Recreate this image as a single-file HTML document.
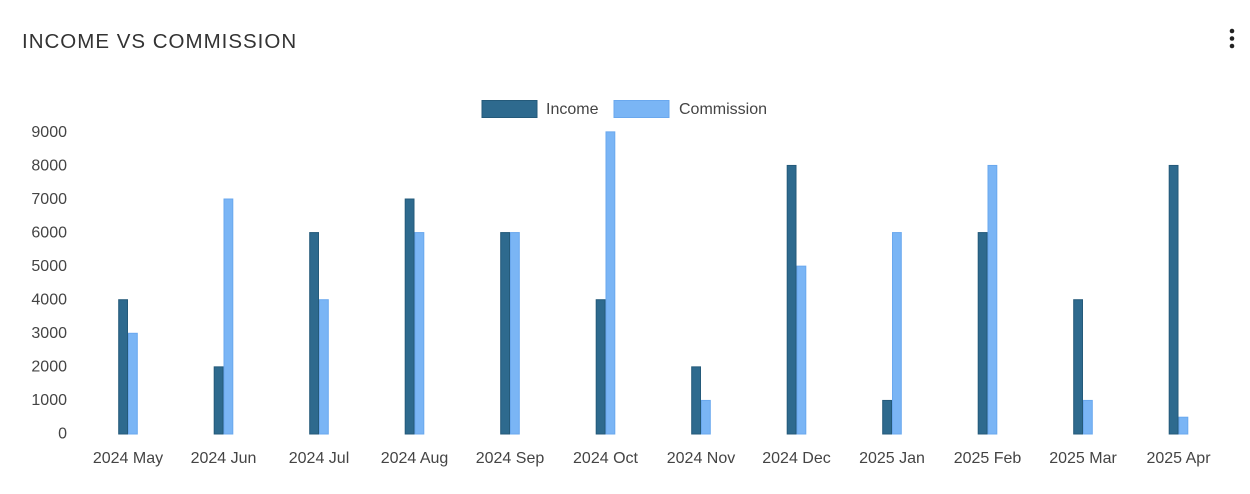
<!DOCTYPE html>
<html><head><meta charset="utf-8"><style>
html,body{margin:0;padding:0;background:#fff;width:1250px;height:494px;overflow:hidden;}
svg text{font-family:"Liberation Sans",sans-serif;}
</style></head><body>
<svg width="1250" height="494" viewBox="0 0 1250 494" xmlns="http://www.w3.org/2000/svg">
<text x="22" y="48" font-size="20.5" fill="#333" letter-spacing="1">INCOME VS COMMISSION</text>
<circle cx="1232" cy="31" r="2.3" fill="#222"/><circle cx="1232" cy="38.5" r="2.3" fill="#222"/><circle cx="1232" cy="46" r="2.3" fill="#222"/>
<rect x="482" y="100.5" width="55" height="17" fill="#2e6a8e" stroke="#245a7a"/>
<text x="546" y="114" font-size="16" fill="#444">Income</text>
<rect x="614" y="100.5" width="55" height="17" fill="#7ab5f5" stroke="#6aa8ee"/>
<text x="679" y="114" font-size="16" fill="#444">Commission</text>
<g font-size="16" fill="#444" text-anchor="end">
<text x="67" y="137">9000</text><text x="67" y="170.5">8000</text><text x="67" y="204">7000</text>
<text x="67" y="237.5">6000</text><text x="67" y="271">5000</text><text x="67" y="304.5">4000</text>
<text x="67" y="338">3000</text><text x="67" y="371.5">2000</text><text x="67" y="405">1000</text>
<text x="67" y="438.5">0</text>
</g>
<g id="bars"></g>
<g id="labels" font-size="16" fill="#444" text-anchor="middle"></g>
<script>
var inc=[4000,2000,6000,7000,6000,4000,2000,8000,1000,6000,4000,8000];
var com=[3000,7000,4000,6000,6000,9000,1000,5000,6000,8000,1000,500];
var lab=["2024 May","2024 Jun","2024 Jul","2024 Aug","2024 Sep","2024 Oct","2024 Nov","2024 Dec","2025 Jan","2025 Feb","2025 Mar","2025 Apr"];
var ns="http://www.w3.org/2000/svg",b=document.getElementById("bars"),l=document.getElementById("labels");
function r(x,v,f,s){var e=document.createElementNS(ns,"rect");var h=v*0.03357;e.setAttribute("x",x+0.5);e.setAttribute("y",434-h);e.setAttribute("width",8.8);e.setAttribute("height",h);e.setAttribute("fill",f);e.setAttribute("stroke",s);e.setAttribute("stroke-width",1);b.appendChild(e);}
for(var i=0;i<12;i++){var c=128+i*95.5;r(c-9.8,inc[i],"#2e6a8e","#245a7a");r(c,com[i],"#7ab5f5","#6aa8ee");
var t=document.createElementNS(ns,"text");t.setAttribute("x",c);t.setAttribute("y",463);t.textContent=lab[i];l.appendChild(t);}
</script>
</svg>
</body></html>
